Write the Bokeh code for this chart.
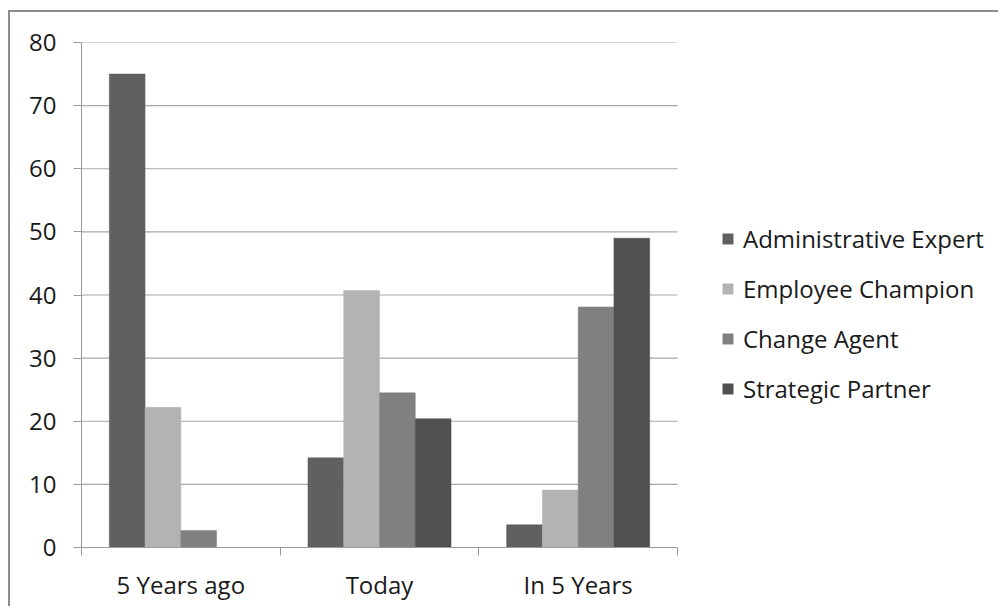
from bokeh.plotting import figure
from bokeh.models import FixedTicker, Legend, LegendItem, ColumnDataSource
from bokeh.embed import file_html
from bokeh.resources import INLINE

categories = ["5 Years ago", "Today", "In 5 Years"]
series = ["Administrative Expert", "Employee Champion", "Change Agent", "Strategic Partner"]
admin = [75.0, 14.2, 3.6]
employee = [22.2, 40.7, 9.1]
change = [2.7, 24.5, 38.1]
strategic = [0.0, 20.4, 49.0]
colors = ["#606060", "#b3b3b3", "#808080", "#505050"]
yticks = list(range(0, 81, 10))

FONT = "Open Sans"
W, H = 990, 596
LEFT = 71
UNIT = 596 / 3.0                     # pixels per category
X_END = (W - LEFT) / UNIT            # frame extends under the legend
ncat = len(categories)

p = figure(width=W, height=H, output_backend="svg", toolbar_location=None,
           x_range=(0, X_END), y_range=(0, 80),
           min_border_left=LEFT, min_border_right=0,
           min_border_top=30, min_border_bottom=H - 535)
p.styles = {"border-top": "2px solid #8c8c8c", "border-left": "2px solid #8c8c8c",
            "margin-left": "8px", "margin-top": "10px"}
p.outline_line_color = None
p.background_fill_color = "white"
p.xgrid.visible = False
p.ygrid.visible = False

# horizontal gridlines limited to the category area
grid_y = [t for t in yticks if t > 0]
p.segment(x0=[0] * len(grid_y), x1=[ncat] * len(grid_y), y0=grid_y, y1=grid_y,
          line_color="#a8a8a8", line_width=1.2)

bar_w = 0.18
offsets = [-0.27, -0.09, 0.09, 0.27]
items = []
for vals, name, col, off in zip([admin, employee, change, strategic], series, colors, offsets):
    src = ColumnDataSource(dict(x=[i + 0.5 + off for i in range(ncat)], top=vals))
    r = p.vbar(x="x", top="top", bottom=0, width=bar_w, source=src,
               fill_color=col, line_color=col, line_width=0.5)
    items.append(LegendItem(label=name, renderers=[r]))

# x axis
p.xaxis.bounds = (0, ncat)
p.xaxis.ticker = FixedTicker(ticks=[i + 0.5 for i in range(ncat)],
                             minor_ticks=list(range(ncat + 1)))
p.xaxis.major_label_overrides = {i + 0.5: c for i, c in enumerate(categories)}
p.xaxis.major_tick_out = 0
p.xaxis.major_tick_in = 0
p.xaxis.minor_tick_out = 8
p.xaxis.minor_tick_in = 0
p.xaxis.minor_tick_line_color = "#9a9a9a"
p.xaxis.axis_line_color = "#9a9a9a"
p.xaxis.major_label_standoff = 12

# y axis
p.yaxis.ticker = FixedTicker(ticks=yticks)
p.yaxis.major_tick_out = 8
p.yaxis.major_tick_in = 0
p.yaxis.minor_tick_line_color = None
p.yaxis.major_tick_line_color = "#9a9a9a"
p.yaxis.axis_line_color = "#9a9a9a"
p.yaxis.major_label_standoff = 17

for ax in (p.xaxis, p.yaxis):
    ax.major_label_text_font = FONT
    ax.major_label_text_font_size = "24px"
    ax.major_label_text_color = "#1a1a1a"

legend = Legend(items=items, location=(640, 142), orientation="vertical",
                glyph_width=13, glyph_height=13, label_standoff=9,
                label_height=32, spacing=17,
                label_text_font=FONT, label_text_font_size="24px",
                label_text_color="#1a1a1a",
                border_line_color=None, background_fill_alpha=0,
                padding=0, margin=0)
p.add_layout(legend)

open("out.html", "w").write(file_html(p, INLINE))
